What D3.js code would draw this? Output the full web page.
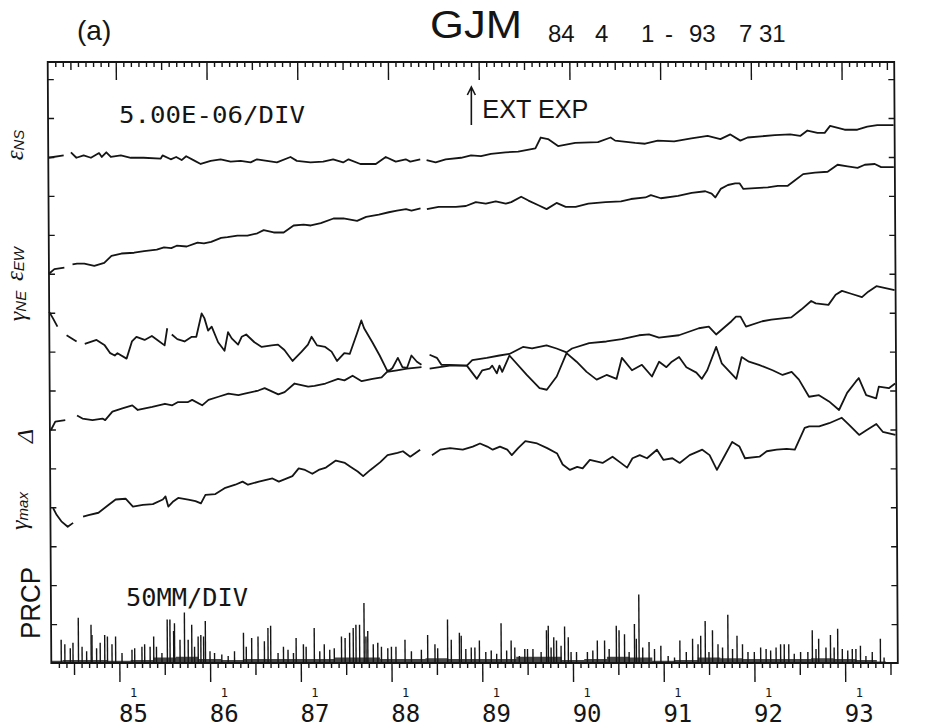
<!DOCTYPE html>
<html><head><meta charset="utf-8">
<script src="https://cdn.jsdelivr.net/npm/d3@7"></script>
<style>
html,body{margin:0;padding:0;background:#fff;}
svg{display:block;}
</style></head><body>
<svg id="c" width="927" height="728"></svg>
<script>
// ---------------- data ----------------
const startYear = 1984.25, endYear = 1993.581;           // 84 4 1 - 93 7 31
const yearTicks = [1985,1986,1987,1988,1989,1990,1991,1992,1993];
const yearLabels = ["85","86","87","88","89","90","91","92","93"];
const dayLabel = "1";
const stationName = "GJM";
const periodTokens = ["84","4","1","-","93","7","31"];
const panelLabel = "(a)";
const strainScaleLabel = "5.00E-06/DIV";
const rainScaleLabel = "50MM/DIV";
const eventLabel = "EXT EXP";
const eventYear = 1988.90;
const strainPerDiv = 5;      // 1e-6 per division
const rainPerDiv = 50;       // mm per division
const seriesNames = [["ε","NS"],["ε","EW"],["γ","NE"],["Δ",""],["γ","max"],["PRCP",""]];

// strain series, values in 1e-6 on the plotted (offset) scale; null = gap
const nsSeries = [[1984.25,64.9],[1984.42,65.2],[1984.46,null],[1984.50,65.6],[1984.56,64.9],[1984.64,65.2],[1984.72,64.9],[1984.81,65.5],[1984.84,65.0],[1984.89,65.6],[1984.94,65.0],[1985.05,65.2],[1985.16,64.9],[1985.30,64.9],[1985.49,64.8],[1985.51,65.2],[1985.60,64.7],[1985.66,65.0],[1985.72,64.6],[1985.77,65.1],[1985.85,64.6],[1985.93,64.1],[1986.04,64.5],[1986.15,64.7],[1986.26,64.4],[1986.37,64.5],[1986.48,64.3],[1986.55,64.7],[1986.66,64.5],[1986.77,64.3],[1986.92,65.0],[1986.99,64.5],[1987.14,64.3],[1987.28,64.4],[1987.39,64.7],[1987.50,64.3],[1987.56,64.7],[1987.69,64.1],[1987.86,64.1],[1987.97,65.0],[1988.08,64.4],[1988.19,64.7],[1988.24,64.4],[1988.35,64.7],[1988.38,null],[1988.42,64.6],[1988.52,64.3],[1988.63,64.7],[1988.80,64.9],[1988.91,65.2],[1989.02,65.1],[1989.13,65.4],[1989.29,65.6],[1989.43,65.7],[1989.62,66.1],[1989.68,67.5],[1989.76,67.3],[1989.87,66.4],[1990.06,66.8],[1990.31,66.9],[1990.45,67.5],[1990.50,67.1],[1990.72,66.8],[1990.83,66.7],[1990.97,67.1],[1991.15,67.0],[1991.34,67.4],[1991.52,67.7],[1991.66,67.3],[1991.77,67.9],[1991.88,67.1],[1991.96,67.5],[1992.26,67.8],[1992.43,67.9],[1992.54,67.7],[1992.62,68.4],[1992.73,68.1],[1992.81,68.1],[1992.87,69.0],[1993.03,68.5],[1993.17,68.5],[1993.28,68.9],[1993.39,69.1],[1993.57,69.1]];

const ewSeries = [[1984.25,50.0],[1984.31,50.6],[1984.42,50.8],[1984.46,null],[1984.51,51.2],[1984.56,51.3],[1984.64,51.3],[1984.75,51.0],[1984.86,51.4],[1984.94,52.3],[1985.05,52.6],[1985.19,52.7],[1985.30,52.9],[1985.44,53.1],[1985.52,53.4],[1985.60,53.3],[1985.66,53.6],[1985.77,53.5],[1985.89,54.0],[1985.96,53.9],[1986.04,54.1],[1986.15,54.6],[1986.22,54.7],[1986.33,54.9],[1986.44,54.9],[1986.55,55.2],[1986.62,55.6],[1986.73,55.3],[1986.84,55.3],[1986.95,56.2],[1987.06,56.3],[1987.14,56.2],[1987.25,56.5],[1987.39,57.1],[1987.50,57.1],[1987.65,56.8],[1987.75,57.3],[1987.89,57.6],[1988.00,57.9],[1988.09,58.1],[1988.19,58.3],[1988.25,58.1],[1988.35,58.4],[1988.38,null],[1988.42,58.3],[1988.55,58.6],[1988.74,58.6],[1988.85,58.7],[1988.96,59.2],[1989.07,59.0],[1989.18,59.3],[1989.29,59.0],[1989.35,59.2],[1989.46,59.9],[1989.54,59.4],[1989.65,58.8],[1989.74,58.3],[1989.85,59.1],[1989.95,58.6],[1990.06,58.6],[1990.20,59.0],[1990.39,59.2],[1990.56,59.3],[1990.67,59.6],[1990.83,59.8],[1990.89,60.1],[1991.00,59.7],[1991.19,60.0],[1991.34,60.4],[1991.49,60.6],[1991.56,60.3],[1991.60,59.8],[1991.66,60.9],[1991.74,61.4],[1991.82,61.6],[1991.87,61.6],[1991.91,60.9],[1992.04,61.0],[1992.18,61.1],[1992.29,61.3],[1992.40,61.3],[1992.48,62.0],[1992.57,62.8],[1992.70,63.0],[1992.84,63.1],[1992.95,64.0],[1993.06,63.8],[1993.17,63.6],[1993.25,64.0],[1993.36,64.1],[1993.43,63.7],[1993.57,63.7]];

const neSeries = [[1984.25,45.1],[1984.29,44.3],[1984.34,43.2],[1984.39,null],[1984.44,42.1],[1984.55,41.3],[1984.60,null],[1984.64,41.0],[1984.77,41.5],[1984.86,40.8],[1984.92,39.8],[1984.97,39.5],[1985.00,39.8],[1985.10,39.1],[1985.16,41.3],[1985.21,41.9],[1985.30,41.5],[1985.38,42.0],[1985.44,41.5],[1985.52,40.8],[1985.55,43.0],[1985.57,null],[1985.60,42.2],[1985.66,41.6],[1985.74,41.3],[1985.82,41.9],[1985.87,41.9],[1985.93,44.9],[1985.96,44.3],[1986.00,42.7],[1986.04,43.2],[1986.11,41.2],[1986.18,40.1],[1986.22,42.5],[1986.26,41.7],[1986.33,40.9],[1986.37,41.9],[1986.42,42.2],[1986.51,41.2],[1986.59,40.6],[1986.70,40.8],[1986.77,40.9],[1986.84,40.2],[1986.93,38.8],[1987.03,40.0],[1987.10,40.9],[1987.14,41.9],[1987.20,40.8],[1987.29,40.6],[1987.36,40.0],[1987.42,38.8],[1987.50,39.8],[1987.56,39.7],[1987.64,42.3],[1987.69,44.0],[1987.72,43.0],[1987.81,41.2],[1987.89,39.5],[1987.97,37.6],[1988.00,37.6],[1988.03,37.9],[1988.09,39.2],[1988.14,38.0],[1988.19,37.9],[1988.24,39.5],[1988.30,38.7],[1988.35,38.3],[1988.40,null],[1988.44,39.6],[1988.52,39.2],[1988.57,38.3],[1988.66,38.3],[1988.85,38.2],[1988.96,36.5],[1989.02,37.6],[1989.10,37.8],[1989.13,38.2],[1989.18,37.2],[1989.21,38.2],[1989.24,37.4],[1989.32,39.5],[1989.51,37.0],[1989.65,35.3],[1989.73,35.1],[1989.84,36.8],[1989.95,39.8],[1990.06,38.7],[1990.17,37.4],[1990.28,36.4],[1990.39,37.0],[1990.50,36.5],[1990.56,39.2],[1990.67,37.6],[1990.78,38.3],[1990.89,36.8],[1990.97,38.7],[1991.05,38.0],[1991.11,38.7],[1991.19,39.3],[1991.27,38.0],[1991.38,37.3],[1991.44,36.5],[1991.50,37.6],[1991.60,40.6],[1991.66,38.5],[1991.82,36.5],[1991.88,39.3],[1991.96,38.7],[1992.07,38.3],[1992.22,37.6],[1992.33,37.0],[1992.43,37.4],[1992.51,36.4],[1992.62,34.2],[1992.73,34.4],[1992.84,33.6],[1992.95,32.5],[1993.04,34.7],[1993.14,36.2],[1993.17,36.6],[1993.25,34.4],[1993.36,34.0],[1993.39,35.5],[1993.50,35.3],[1993.57,35.9]];

const deltaSeries = [[1984.26,29.9],[1984.31,31.0],[1984.42,31.2],[1984.48,null],[1984.55,31.8],[1984.61,31.4],[1984.72,31.2],[1984.83,31.4],[1984.86,31.2],[1984.94,32.3],[1985.05,32.7],[1985.16,33.1],[1985.22,32.5],[1985.38,32.9],[1985.52,33.3],[1985.60,33.1],[1985.66,33.5],[1985.77,33.5],[1985.82,33.8],[1985.93,33.1],[1986.00,33.8],[1986.11,34.2],[1986.22,34.6],[1986.33,34.4],[1986.40,34.6],[1986.55,35.0],[1986.62,35.3],[1986.77,34.5],[1986.84,34.8],[1986.95,35.9],[1987.10,35.5],[1987.17,35.6],[1987.29,35.9],[1987.43,36.5],[1987.50,36.3],[1987.59,36.9],[1987.69,36.2],[1987.81,36.5],[1987.91,36.7],[1987.97,37.4],[1988.08,37.6],[1988.19,37.8],[1988.35,38.0],[1988.40,null],[1988.44,37.8],[1988.55,38.0],[1988.66,38.2],[1988.85,38.2],[1988.91,38.9],[1989.07,39.2],[1989.21,39.5],[1989.32,39.7],[1989.47,40.6],[1989.57,40.4],[1989.73,40.8],[1989.84,40.4],[1989.95,39.9],[1990.01,40.4],[1990.20,41.1],[1990.39,41.3],[1990.56,41.6],[1990.75,42.1],[1990.86,42.2],[1990.97,41.8],[1991.19,42.1],[1991.41,43.0],[1991.52,43.2],[1991.60,42.2],[1991.77,43.9],[1991.82,44.5],[1991.87,44.5],[1991.93,43.2],[1992.11,43.9],[1992.21,44.1],[1992.43,44.4],[1992.54,45.4],[1992.65,46.5],[1992.70,46.2],[1992.84,46.0],[1992.92,47.3],[1992.99,47.8],[1993.10,47.4],[1993.21,47.0],[1993.28,47.7],[1993.37,48.4],[1993.57,47.9]];

const gmaxSeries = [[1984.28,19.9],[1984.32,19.0],[1984.37,18.2],[1984.44,17.5],[1984.50,18.0],[1984.55,null],[1984.61,18.8],[1984.67,19.0],[1984.78,19.3],[1984.89,20.3],[1984.97,21.0],[1985.08,21.1],[1985.16,20.1],[1985.27,20.3],[1985.38,20.4],[1985.49,21.0],[1985.52,21.4],[1985.55,20.1],[1985.60,20.7],[1985.66,21.2],[1985.77,21.0],[1985.85,20.8],[1985.91,20.5],[1985.96,21.6],[1986.07,21.7],[1986.18,22.5],[1986.29,22.9],[1986.37,23.3],[1986.43,22.9],[1986.55,23.3],[1986.70,23.7],[1986.77,23.3],[1986.92,24.0],[1986.99,25.0],[1987.06,24.8],[1987.14,24.3],[1987.21,24.8],[1987.29,25.1],[1987.40,26.0],[1987.50,25.7],[1987.56,25.2],[1987.64,24.6],[1987.70,24.0],[1987.78,24.8],[1987.89,25.8],[1987.97,26.7],[1988.08,27.0],[1988.14,27.2],[1988.22,26.5],[1988.33,27.4],[1988.40,null],[1988.46,26.7],[1988.55,27.4],[1988.66,27.6],[1988.80,27.4],[1988.91,27.8],[1988.99,28.2],[1989.07,27.8],[1989.13,27.4],[1989.21,27.8],[1989.29,27.4],[1989.34,26.7],[1989.41,27.6],[1989.49,28.5],[1989.62,28.2],[1989.73,27.6],[1989.84,26.9],[1989.90,25.5],[1989.98,24.8],[1990.06,25.2],[1990.12,25.0],[1990.20,26.1],[1990.34,25.7],[1990.45,26.5],[1990.53,25.8],[1990.61,25.1],[1990.67,26.3],[1990.75,26.7],[1990.83,26.3],[1990.94,27.4],[1991.01,26.1],[1991.11,26.3],[1991.19,25.7],[1991.30,26.7],[1991.44,27.4],[1991.52,26.7],[1991.60,24.8],[1991.68,26.5],[1991.77,28.4],[1991.85,27.8],[1991.91,26.3],[1992.07,26.5],[1992.15,27.2],[1992.26,27.4],[1992.37,27.5],[1992.46,27.4],[1992.57,30.2],[1992.62,30.4],[1992.73,30.4],[1992.84,30.8],[1992.98,31.5],[1993.06,30.6],[1993.17,29.3],[1993.25,29.9],[1993.36,30.7],[1993.43,29.7],[1993.57,29.3]];

// precipitation, [year, mm] for the distinct daily spikes
const precip = [[1984.36,30],[1984.40,24],[1984.46,19],[1984.49,26],[1984.55,58],[1984.59,21],[1984.64,15],[1984.69,49],[1984.70,36],[1984.75,19],[1984.79,26],[1984.84,36],[1984.87,34],[1984.92,24],[1984.96,34],[1985.03,13],[1985.14,17],[1985.17,19],[1985.25,21],[1985.28,24],[1985.34,21],[1985.38,34],[1985.41,21],[1985.47,13],[1985.53,56],[1985.56,56],[1985.60,41],[1985.61,51],[1985.67,30],[1985.72,65],[1985.76,30],[1985.80,49],[1985.83,21],[1985.87,34],[1985.90,36],[1985.93,34],[1985.95,54],[1986.00,15],[1986.05,13],[1986.13,11],[1986.20,9],[1986.27,15],[1986.37,39],[1986.40,21],[1986.46,32],[1986.53,34],[1986.60,28],[1986.64,45],[1986.67,48],[1986.75,13],[1986.81,21],[1986.86,17],[1986.92,13],[1986.95,32],[1987.03,24],[1987.06,21],[1987.15,45],[1987.21,15],[1987.26,24],[1987.32,17],[1987.37,19],[1987.45,34],[1987.49,32],[1987.54,39],[1987.58,45],[1987.61,49],[1987.65,49],[1987.70,77],[1987.72,34],[1987.74,41],[1987.80,24],[1987.85,26],[1987.89,21],[1987.96,19],[1988.00,21],[1988.05,21],[1988.15,30],[1988.22,15],[1988.33,17],[1988.40,36],[1988.48,24],[1988.51,19],[1988.62,56],[1988.66,30],[1988.75,39],[1988.77,35],[1988.82,18],[1988.88,20],[1988.92,20],[1988.97,29],[1989.04,14],[1989.10,16],[1989.16,12],[1989.21,51],[1989.27,16],[1989.32,29],[1989.36,20],[1989.41,9],[1989.47,18],[1989.50,18],[1989.56,18],[1989.65,14],[1989.71,42],[1989.73,48],[1989.76,20],[1989.79,33],[1989.82,29],[1989.87,22],[1989.91,47],[1989.95,33],[1989.98,14],[1990.04,14],[1990.16,14],[1990.22,16],[1990.27,29],[1990.35,29],[1990.40,18],[1990.48,48],[1990.51,42],[1990.57,37],[1990.62,14],[1990.68,50],[1990.70,31],[1990.73,88],[1990.77,20],[1990.84,27],[1990.90,18],[1990.97,22],[1991.05,9],[1991.12,7],[1991.18,29],[1991.25,14],[1991.32,31],[1991.38,24],[1991.41,35],[1991.46,54],[1991.50,14],[1991.54,42],[1991.60,24],[1991.65,20],[1991.71,62],[1991.76,18],[1991.81,35],[1991.87,24],[1991.93,14],[1992.00,14],[1992.07,20],[1992.13,18],[1992.18,16],[1992.24,20],[1992.29,24],[1992.33,24],[1992.38,24],[1992.44,12],[1992.51,14],[1992.59,14],[1992.64,42],[1992.68,18],[1992.71,31],[1992.79,20],[1992.84,36],[1992.88,20],[1992.92,44],[1992.97,18],[1993.03,16],[1993.08,18],[1993.12,18],[1993.17,22],[1993.23,9],[1993.30,14],[1993.39,31],[1993.43,7]];

// height (mm) of the dense band of small daily rains, per quarter year
const rainBand = [[1984.25,3],[1984.50,4],[1984.75,4],[1985.00,3],[1985.25,4],[1985.50,7],[1985.75,8],[1986.00,5],[1986.25,4],[1986.50,5],[1986.75,5],[1987.00,5],[1987.25,5],[1987.50,7],[1987.75,7],[1988.00,5],[1988.25,5],[1988.50,6],[1988.75,5],[1989.00,5],[1989.25,5],[1989.50,8],[1989.75,8],[1990.00,4],[1990.25,5],[1990.50,8],[1990.75,7],[1991.00,3],[1991.25,4],[1991.50,7],[1991.75,6],[1992.00,5],[1992.25,5],[1992.50,5],[1992.75,6],[1993.00,5],[1993.25,4],[1993.45,2]];

// ---------------- drawing ----------------
const svg = d3.select("#c");
const INK = "#151515";
const yTop = 62, yBot = 663;
const x = d3.scaleLinear().domain([startYear, endYear]).range([49.5, 896]);
const y = d3.scaleLinear().domain([0, 77.2]).range([yBot, yTop]);
const divPx = y(0) - y(strainPerDiv);
const yRain = d3.scaleLinear().domain([0, rainPerDiv]).range([yBot, yBot - divPx]);

// slight skew of the scanned original
const K = 0.006, YM = 362;
const plot = svg.append("g").attr("transform", `matrix(1,0,${K},1,${-K*YM},0)`);

// months
const months = d3.range(1, 112).map(i => ({t: startYear + i/12, m: (i + 3) % 12}));
const small = months.filter(d => d.m !== 0 && d.m !== 6).map(d => d.t);
const half = months.filter(d => d.m === 6).map(d => d.t);
const full = months.filter(d => d.m === 0).map(d => d.t);

function tickAxis(axis, vals, size, ty) {
  const g = plot.append("g").attr("transform", `translate(0,${ty})`)
    .call(axis(x).tickValues(vals).tickSize(size).tickFormat(""));
  g.select(".domain").remove();
  g.selectAll("line").attr("stroke", INK).attr("stroke-width", 1.4);
}
tickAxis(d3.axisTop, small, -5, yTop);
tickAxis(d3.axisTop, half, -8, yTop);
tickAxis(d3.axisTop, full, -18, yTop);
tickAxis(d3.axisBottom, small, 5, yBot);
tickAxis(d3.axisBottom, half, 12, yBot);
tickAxis(d3.axisBottom, full, 19, yBot);

const yTicks = d3.range(strainPerDiv, 77, strainPerDiv);
[[d3.axisLeft, x.range()[0]], [d3.axisRight, x.range()[1]]].forEach(([axf, tx]) => {
  const g = plot.append("g").attr("transform", `translate(${tx},0)`)
    .call(axf(y).tickValues(yTicks).tickSize(-6).tickFormat(""));
  g.select(".domain").remove();
  g.selectAll("line").attr("stroke", INK).attr("stroke-width", 1.4);
});

// frame
plot.append("rect").attr("x", x.range()[0]).attr("y", yTop)
  .attr("width", x.range()[1] - x.range()[0]).attr("height", yBot - yTop)
  .attr("fill", "none").attr("stroke", INK).attr("stroke-width", 1.8);

// dense band of small rains
plot.append("path")
  .attr("d", d3.area().curve(d3.curveStep).x(d => x(d[0])).y0(yRain(0)).y1(d => yRain(d[1]))(rainBand))
  .attr("fill", INK).attr("opacity", 0.8);

// precipitation bars
plot.append("g").selectAll("line").data(precip).join("line")
  .attr("x1", d => x(d[0])).attr("x2", d => x(d[0]))
  .attr("y1", yRain(0)).attr("y2", d => yRain(d[1]))
  .attr("stroke", INK).attr("stroke-width", 1.4);

// strain curves
const line = d3.line().defined(d => d[1] !== null).x(d => x(d[0])).y(d => y(d[1]));
[nsSeries, ewSeries, neSeries, deltaSeries, gmaxSeries].forEach(s => {
  plot.append("path").attr("d", line(s)).attr("fill", "none")
    .attr("stroke", INK).attr("stroke-width", 1.8).attr("stroke-linejoin", "round");
});

// ---- texts ----
const sans = "'Liberation Sans', Arial, sans-serif";
const mono = "'DejaVu Sans Mono', monospace";
const serif = "'Liberation Serif', 'DejaVu Serif', serif";

svg.append("text").attr("x", 77).attr("y", 40).attr("font-family", sans).attr("font-size", 28)
  .attr("fill", INK).text(panelLabel);
svg.append("text").attr("x", 430).attr("y", 38).attr("font-family", sans).attr("font-size", 39)
  .attr("fill", INK).attr("textLength", 92).attr("lengthAdjust", "spacingAndGlyphs").text(stationName);
const periodX = [548, 595, 641, 665, 689, 739, 759];
svg.append("g").selectAll("text").data(periodTokens).join("text")
  .attr("x", (d, i) => periodX[i]).attr("y", 42).attr("font-family", sans).attr("font-size", 24)
  .attr("fill", INK).text(d => d);

svg.append("text").attr("x", 119).attr("y", 123).attr("font-family", mono).attr("font-size", 23)
  .attr("fill", INK).attr("textLength", 186).attr("lengthAdjust", "spacingAndGlyphs").text(strainScaleLabel);
svg.append("text").attr("x", 126).attr("y", 606).attr("font-family", mono).attr("font-size", 24)
  .attr("fill", INK).attr("textLength", 122).attr("lengthAdjust", "spacingAndGlyphs").text(rainScaleLabel);

// event arrow
const arX = x(eventYear);
svg.append("path").attr("d", `M${arX},125 L${arX},87 M${arX-4},95 L${arX},87 L${arX+4},95`)
  .attr("fill", "none").attr("stroke", INK).attr("stroke-width", 1.6);
svg.append("text").attr("x", arX + 11).attr("y", 118).attr("font-family", sans).attr("font-size", 25)
  .attr("fill", INK).attr("textLength", 106).attr("lengthAdjust", "spacingAndGlyphs").text(eventLabel);

// bottom labels
yearTicks.forEach((t, i) => {
  const cx = x(t) + 16;
  svg.append("text").attr("x", cx).attr("y", 696.5).attr("text-anchor", "middle")
    .attr("font-family", mono).attr("font-size", 12).attr("fill", INK).text(dayLabel);
  svg.append("text").attr("x", cx).attr("y", 722).attr("text-anchor", "middle")
    .attr("font-family", mono).attr("font-size", 24).attr("fill", INK).text(yearLabels[i]);
});

// rotated series names  [baseline x, centre y, main size, sub size]
const namePos = [[23,145,25,15],[23,264,25,15],[25,306,24,15],[33,436,24,0],[27,511,24,15],[40,603,28,0]];
seriesNames.forEach((nm, i) => {
  const [bx, cy, fs, ss] = namePos[i];
  const t = svg.append("text").attr("transform", `translate(${bx},${cy}) rotate(-90)`)
    .attr("text-anchor", "middle").attr("fill", INK);
  if (nm[0] === "PRCP") {
    t.attr("font-family", sans).attr("font-size", fs).attr("textLength", 72)
      .attr("lengthAdjust", "spacingAndGlyphs").text(nm[0]);
  } else {
    t.append("tspan").attr("font-family", serif).attr("font-style", "italic").attr("font-size", fs).text(nm[0]);
    if (nm[1]) t.append("tspan").attr("font-family", sans).attr("font-style", "italic")
      .attr("font-size", ss).attr("dy", 1).text(nm[1]);
  }
});
</script>
</body></html>
